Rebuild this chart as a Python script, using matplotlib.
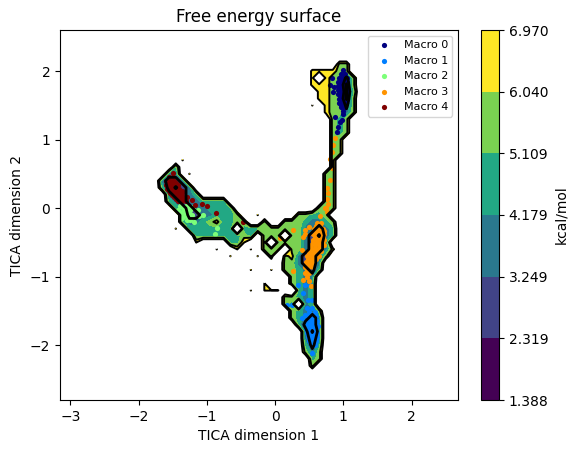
import numpy as np
import matplotlib
matplotlib.use('Agg')
import matplotlib.pyplot as plt

levels = [1.388, 2.319, 3.249, 4.179, 5.109, 6.040, 6.970]
band_colors = ['#440154', '#414487', '#2a788e', '#22a884', '#7ad151', '#fde725']
line_levels = [2.0, 3.25, 6.04, 6.97]
line_widths = [2, 2, 1.4, 1.4]

# free energy per bin: 1-6 = colour band, 7 = tiny speck, . = no data, , = hole
band_value = {'1': 1.85, '2': 2.78, '3': 3.71, '4': 4.64, '5': 5.57, '6': 6.5, '7': 6.9, '.': 9.0, ',': 12.0}
grid_x0 = -1.754
grid_y0 = 2.2
grid_step = 0.1
surface_rows = [
    "................................",
    "...........................55...",
    ".......................666655...",
    ".......................6,65525..",
    ".......................6665415..",
    "........................665514..",
    "........................665415..",
    ".......................7.65525..",
    ".........................65535..",
    "..........................545...",
    "..........................545...",
    "..........................545...",
    "..........................55....",
    "..........................55....",
    "..........................55....",
    "....7.....................5.....",
    "...4......................5.....",
    "..33.7...................55.....",
    ".3223....................55.....",
    ".42123...................55.....",
    "..32234..................55.....",
    "..43233" + "4444" + "..............55.....",
    "...432334444" + "............" + "555.....",
    "....422334445" + ".." + "7" + "....." + "55445" + "......",
    "....4334564455" + ".." + "5" + ".." + "55543345" + ".....",
    "...7." + "4444444" + "," + "444" + "5555553" + "3234" + ".....",
    "......" + "4444444" + "5" + "4" + "." + "555" + "," + "55" + "3" + "213" + "4" + ".....",
    "......7" + "...." + "44" + "7" + ".." + "5" + "," + "5555" + "3" + "223" + "......",
    ".........7" + "..7" + ".7" + "." + "555" + "," + "55" + "3" + "22" + "3" + "6" + ".....",
    "..........." + "7" + "..." + "7" + "." + "5" + "," + "563" + "223" + "5" + "......",
    "..................." + "55" + "3" + "22" + "3" + ".......",
    "..............7" + ".." + "7" + "." + "55" + "4" + "32" + "4" + ".......",
    "...................." + "5433" + "........",
    "................7" + "..." + "5434" + "........",
    "..............7" + "." + "777" + ".," + "434" + "........",
    "..................." + "55434" + "........",
    "..................." + "54,34" + "........",
    "...................." + "54335" + ".......",
    "...................." + "54323" + ".......",
    "....................." + "4223" + ".......",
    "......................" + "313" + ".......",
    "......................" + "323" + ".......",
    "......................" + "424" + ".......",
    "......................" + "535" + ".......",
    "......................." + "45" + ".......",
    "......................." + "5" + "........",
    "................................",
]

macro0_x = [1.0, 0.96, 1.03, 0.93, 1.0, 1.06, 0.92, 0.99, 1.06, 0.92, 0.99, 1.06, 0.92, 0.99, 1.06,
            0.92, 0.99, 1.05, 0.93, 0.99, 1.05, 0.94, 1.0, 1.04, 0.96, 1.02, 0.99,
            0.83, 0.81, 0.86, 0.85, 0.88, 0.95, 0.92, 0.98, 0.91, 1.0,
            0.96, 1.03, 0.95, 1.03, 0.95, 1.03, 0.95, 1.03, 0.95, 1.02, 0.96, 1.02, 0.97, 1.02]
macro0_y = [2.02, 1.96, 1.96, 1.9, 1.9, 1.9, 1.84, 1.84, 1.84, 1.78, 1.78, 1.78, 1.72, 1.72, 1.72,
            1.66, 1.66, 1.66, 1.6, 1.6, 1.6, 1.54, 1.54, 1.54, 1.48, 1.48, 1.42,
            1.9, 1.8, 1.77, 1.69, 1.33, 1.25, 1.18, 1.28, 1.11, 1.38,
            1.87, 1.87, 1.81, 1.81, 1.75, 1.75, 1.69, 1.69, 1.63, 1.63, 1.57, 1.57, 1.51, 1.51]
macro1_x = [0.34, 0.44, 0.51, 0.41, 0.48, 0.18, 0.25, 0.47, 0.40, 0.44, 0.54, 0.54,
            0.54, 0.5, 0.58, 0.48, 0.55, 0.6, 0.47, 0.54, 0.61, 0.46, 0.53, 0.6, 0.63,
            0.46, 0.53, 0.6, 0.47, 0.54, 0.61, 0.48, 0.55, 0.61, 0.5, 0.56, 0.6, 0.53, 0.58,
            0.51, 0.57, 0.5, 0.57, 0.5, 0.57, 0.5, 0.57, 0.51, 0.58, 0.52, 0.58]
macro1_y = [-1.12, -1.12, -1.12, -1.24, -1.34, -1.42, -1.42, -1.45, -1.61, -1.56, -1.34, -2.12,
            -1.46, -1.52, -1.52, -1.58, -1.58, -1.58, -1.64, -1.64, -1.64, -1.7, -1.7, -1.7, -1.72,
            -1.76, -1.76, -1.76, -1.82, -1.82, -1.82, -1.88, -1.88, -1.88, -1.94, -1.94, -1.94, -2.0, -2.0,
            -1.61, -1.61, -1.67, -1.67, -1.73, -1.73, -1.79, -1.79, -1.85, -1.85, -1.91, -1.91]
macro2_x = [-1.36, -1.31, -1.26, -1.37, -1.32, -1.27, -1.22, -1.33, -1.28, -1.23, -1.29, -1.24,
            -1.05, -0.85, -0.88, -1.13, -1.39, -1.42, -1.36, -1.18, -1.12, -1.2,
            -1.34, -1.29, -1.24, -1.35, -1.3, -1.25, -1.3, -1.25]
macro2_y = [0.01, 0.03, 0.0, -0.05, -0.04, -0.07, -0.1, -0.1, -0.13, -0.15, -0.17, -0.18,
            -0.1, -0.29, -0.38, -0.03, 0.03, -0.02, -0.14, -0.2, -0.12, 0.01,
            -0.02, -0.02, -0.02, -0.08, -0.08, -0.08, -0.12, -0.12]
macro3_x = [0.62, 0.68, 0.57, 0.63, 0.7, 0.55, 0.61, 0.67, 0.72, 0.55, 0.61, 0.67, 0.72,
            0.53, 0.59, 0.65, 0.71, 0.5, 0.56, 0.62, 0.67, 0.47, 0.53, 0.59, 0.64,
            0.45, 0.51, 0.57, 0.44, 0.5, 0.56, 0.44, 0.5, 0.47,
            0.07, 0.26, 0.26, 0.41, 0.5, 0.53, 0.66, 0.73, 0.44, 0.41, 0.39,
            0.88, 0.85, 0.83, 0.81, 0.83, 0.8, 0.76, 0.77, 0.76, 0.78, 0.74, 0.76,
            0.6, 0.66, 0.59, 0.65, 0.71, 0.58, 0.64, 0.7, 0.56, 0.62, 0.68, 0.53, 0.59, 0.65,
            0.5, 0.56, 0.62, 0.48, 0.54, 0.6, 0.47, 0.53, 0.47, 0.44, 0.5]
macro3_y = [-0.22, -0.22, -0.3, -0.3, -0.3, -0.38, -0.38, -0.38, -0.38, -0.46, -0.46, -0.46, -0.46,
            -0.54, -0.54, -0.54, -0.54, -0.62, -0.62, -0.62, -0.62, -0.7, -0.7, -0.7, -0.7,
            -0.78, -0.78, -0.78, -0.86, -0.86, -0.86, -0.94, -0.94, -1.0,
            -0.44, -0.32, -0.92, -1.05, -1.07, -1.14, -0.12, 0.0, -0.32, -0.42, -0.61,
            1.02, 0.92, 0.82, 0.72, 0.58, 0.41, 0.3, 0.22, 0.14, 0.06, 0.0, -0.06,
            -0.26, -0.26, -0.34, -0.34, -0.34, -0.42, -0.42, -0.42, -0.5, -0.5, -0.5, -0.58, -0.58, -0.58,
            -0.66, -0.66, -0.66, -0.74, -0.74, -0.74, -0.82, -0.82, -0.9, -0.38, -0.28]
macro4_x = [-1.55, -1.5, -1.6, -1.54, -1.48, -1.6, -1.54, -1.48, -1.42, -1.58, -1.52, -1.46, -1.4,
            -1.54, -1.48, -1.42, -1.36, -1.48, -1.42, -1.36, -1.32, -1.42, -1.36, -1.3,
            -1.29, -1.21, -1.17, -1.07, -1.0, -0.86, -0.47, -1.5,
            -1.57, -1.51, -1.45, -1.56, -1.5, -1.44, -1.55, -1.49, -1.43, -1.37,
            -1.51, -1.45, -1.39, -1.45, -1.39, -1.33]
macro4_y = [0.45, 0.45, 0.4, 0.4, 0.4, 0.34, 0.34, 0.34, 0.34, 0.28, 0.28, 0.28, 0.28,
            0.22, 0.22, 0.22, 0.22, 0.16, 0.16, 0.16, 0.16, 0.1, 0.1, 0.1,
            0.16, 0.12, 0.04, 0.06, 0.03, -0.07, -0.2, 0.51,
            0.37, 0.37, 0.37, 0.31, 0.31, 0.31, 0.25, 0.25, 0.25, 0.25,
            0.19, 0.19, 0.19, 0.13, 0.13, 0.13]

macro_labels = ['Macro 0', 'Macro 1', 'Macro 2', 'Macro 3', 'Macro 4']
macro_xs = [macro0_x, macro1_x, macro2_x, macro3_x, macro4_x]
macro_ys = [macro0_y, macro1_y, macro2_y, macro3_y, macro4_y]
macro_colors = ['#00007f', '#007fff', '#7cff79', '#ff9400', '#7f0000']

rows = [r.ljust(32, '.') for r in surface_rows]
z = np.array([[band_value[c] for c in r] for r in rows])
gx = grid_x0 + grid_step * np.arange(z.shape[1])
gy = grid_y0 - grid_step * np.arange(z.shape[0])

fig = plt.figure(figsize=(5.79, 4.53), dpi=100)
ax = fig.add_axes([60 / 579, 1 - 400 / 453, 398 / 579, 370 / 453])
cax = fig.add_axes([481 / 579, 1 - 400 / 453, 18 / 579, 370 / 453])

cf = ax.contourf(gx, gy, z, levels=levels, colors=band_colors, zorder=1)
for mx, my, lab, col in zip(macro_xs, macro_ys, macro_labels, macro_colors):
    ax.scatter(mx, my, s=14, color=col, label=lab, zorder=2, linewidths=0)
ax.contour(gx, gy, z, levels=line_levels, colors='k', linewidths=line_widths, zorder=3)

ax.set_xlim(-3.15, 2.68)
ax.set_ylim(-2.8, 2.6)
ax.set_xticks([-3, -2, -1, 0, 1, 2])
ax.set_yticks([-2, -1, 0, 1, 2])
ax.set_xlabel('TICA dimension 1')
ax.set_ylabel('TICA dimension 2')
ax.set_title('Free energy surface')
ax.legend(loc='upper right', fontsize=8)

cb = fig.colorbar(cf, cax=cax, ticks=levels, format='%.3f')
cb.set_label('kcal/mol')

fig.savefig('out.png', dpi=100)
